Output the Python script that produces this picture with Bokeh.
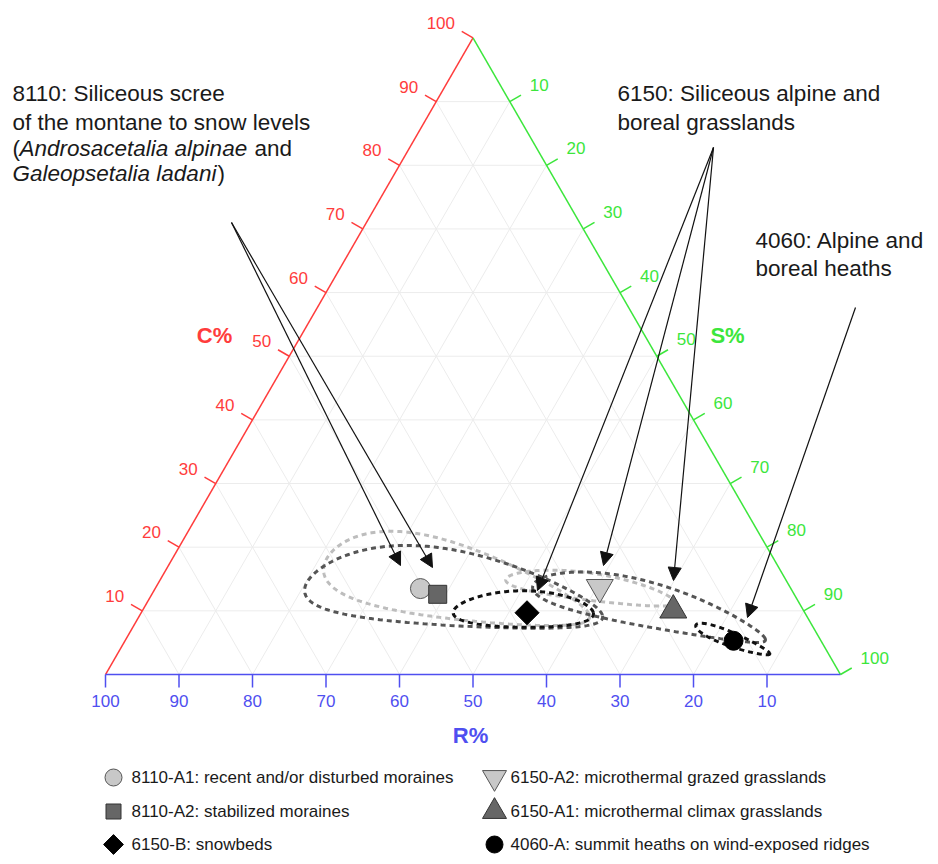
import numpy as np
from bokeh.plotting import figure
from bokeh.models import ColumnDataSource, Label, Arrow, NormalHead, Range1d
from bokeh.embed import file_html
from bokeh.resources import INLINE
from bokeh.core.properties import value

# ---------------- data ----------------
groups = ["8110-A1", "8110-A2", "6150-B", "6150-A2", "6150-A1", "4060-A"]
descriptions = ["recent and/or disturbed moraines", "stabilized moraines", " snowbeds",
                "microthermal grazed grasslands", "microthermal climax grasslands",
                "summit heaths on wind-exposed  ridges"]
C_pct = [13.5, 12.6, 9.7, 13.7, 10.1, 5.3]
S_pct = [36.1, 38.9, 52.5, 60.4, 72.2, 82.8]
R_pct = [50.4, 48.5, 37.8, 25.9, 17.7, 11.9]

# confidence ellipses in log-ratio space: u = ln(S/R), v = ln(C/sqrt(R*S))
ell_u0 = [-0.17, -0.18, 0.32, 0.83, 1.42, 1.99]
ell_su = [0.90, 1.00, 0.44, 0.62, 1.04, 0.42]
ell_v0 = [-1.13, -1.24, -1.50, -1.08, -1.32, -1.81]
ell_sv = [0.64, 0.60, 0.32, 0.19, 0.45, 0.38]
ell_rho = [-0.62, -0.45, 0.10, -0.16, -0.40, -0.70]

tick_values = [10, 20, 30, 40, 50, 60, 70, 80, 90, 100]
tick_labels = ["10", "20", "30", "40", "50", "60", "70", "80", "90", "100"]

# ---------------- styles ----------------
markers = ["circle", "square", "square", "inverted_triangle", "triangle", "circle"]
angles = [0, 0, np.pi / 4, 0, 0, 0]
sizes = [20, 18, 17, 27, 27, 19]
leg_sizes = [17, 15, 14, 24, 24, 17]
fills = ["#c8c8c8", "#666666", "#000000", "#c8c8c8", "#666666", "#000000"]
outlines = ["#555555", "#333333", "#000000", "#555555", "#333333", "#000000"]
ell_colors = ["#bdbdbd", "#555555", "#111111", "#bdbdbd", "#555555", "#111111"]
RED, GREEN, BLUE = "#ff3c3c", "#3ce63c", "#4f4ff0"
FONT = "Liberation Sans"

# ---------------- geometry ----------------
PX = 7.35                 # pixels per percent unit
OX, OY = 105.0, 674.0     # picture position of the R=100 vertex
W, H = 930, 856
H3 = np.sqrt(3) / 2


def tern(c, s):
    c = np.asarray(c, dtype=float)
    s = np.asarray(s, dtype=float)
    return s + c / 2.0, c * H3


def pg(xp, yp):
    return (xp - OX) / PX, (OY - yp) / PX


x0, y1 = pg(0, 0)
x1, y0 = pg(W, H)

p = figure(width=W, height=H, x_range=Range1d(x0, x1), y_range=Range1d(y0, y1),
           output_backend="svg", toolbar_location=None, tools="", min_border=0,
           x_axis_type=None, y_axis_type=None, outline_line_color=None,
           background_fill_color="white", border_fill_color="white")

# grid lines
gx, gy = [], []
for k in tick_values[:-1]:
    gx.append([k / 2, 100 - k / 2]); gy.append([k * H3, k * H3])                 # C = k
    gx.append([100 - k, (100 - k) / 2]); gy.append([0, (100 - k) * H3])         # R = k
    gx.append([k, k + (100 - k) / 2]); gy.append([0, (100 - k) * H3])           # S = k
p.multi_line(gx, gy, line_color="#ececec", line_width=1)

# triangle edges
p.line([0, 50], [0, 100 * H3], line_color=RED, line_width=1.5)
p.line([50, 100], [100 * H3, 0], line_color=GREEN, line_width=1.5)
p.line([0, 100], [0, 0], line_color=BLUE, line_width=1.5)

TL = 13 / PX
tv = np.array(tick_values, dtype=float)
# bottom (R) ticks
bx = 100 - tv
p.segment(bx, 0 * bx, bx, 0 * bx - TL, line_color=BLUE, line_width=1.5)
p.text(bx, 0 * bx - 26 / PX, text=tick_labels, text_color=BLUE, text_font=value(FONT),
       text_font_size="17px", text_align="center", text_baseline="middle")
# left (C) ticks
lx, ly = tern(tv, 0 * tv)
p.segment(lx, ly, lx - TL * H3, ly + TL * 0.5, line_color=RED, line_width=1.5)
p.text(lx - 18 / PX, ly + 15 / PX, text=tick_labels, text_color=RED, text_font=value(FONT),
       text_font_size="17px", text_align="right", text_baseline="middle")
# right (S) ticks
rx, ry = tern(100 - tv, tv)
p.segment(rx, ry, rx + TL * H3, ry + TL * 0.5, line_color=GREEN, line_width=1.5)
p.text(rx + 20 / PX, ry + 17 / PX, text=tick_labels, text_color=GREEN, text_font=value(FONT),
       text_font_size="17px", text_align="left", text_baseline="middle")

# axis titles
for txt, (xp, yp), col in [("C%", (214, 335), RED), ("S%", (727, 335), GREEN), ("R%", (470, 735), BLUE)]:
    lx_, ly_ = pg(xp, yp)
    p.add_layout(Label(x=lx_, y=ly_, text=txt, text_color=col, text_font=FONT, text_font_size="22px",
                       text_font_style="bold", text_align="center", text_baseline="middle"))

# ellipses
t = np.linspace(0, 2 * np.pi, 240)
ex, ey = [], []
for u0, su, v0, sv, rho in zip(ell_u0, ell_su, ell_v0, ell_sv, ell_rho):
    u = u0 + su * np.cos(t)
    v = v0 + sv * np.cos(t + np.arccos(rho))
    r_, s_, c_ = np.exp(-u / 2), np.exp(u / 2), np.exp(v)
    tot = r_ + s_ + c_
    X, Y = tern(100 * c_ / tot, 100 * s_ / tot)
    ex.append(list(X)); ey.append(list(Y))
order = [0, 3, 1, 4, 2, 5]
p.multi_line([ex[i] for i in order], [ey[i] for i in order],
             line_color=[ell_colors[i] for i in order], line_width=3, line_dash="5 4")

# points
PXs, PYs = tern(C_pct, S_pct)
src = ColumnDataSource(dict(x=PXs, y=PYs, marker=markers, angle=angles, size=sizes,
                            fill=fills, line=outlines, group=groups))
p.scatter("x", "y", source=src, marker="marker", angle="angle", size="size",
          fill_color="fill", line_color="line", line_width=1)

# annotation arrows
arrows_px = [((231, 222), (400, 565)), ((231, 222), (432, 567)),
             ((713, 147), (537, 590)), ((713, 147), (603, 565)), ((713, 147), (673, 580)),
             ((855, 307), (747, 617))]
axs, ays, axe, aye = [], [], [], []
for (a, b) in arrows_px:
    xs_, ys_ = pg(*a); xe_, ye_ = pg(*b)
    axs.append(xs_); ays.append(ys_); axe.append(xe_); aye.append(ye_)
asrc = ColumnDataSource(dict(xs=axs, ys=ays, xe=axe, ye=aye))
p.add_layout(Arrow(x_start="xs", y_start="ys", x_end="xe", y_end="ye", source=asrc,
                   line_color="#111111", line_width=1.2,
                   end=NormalHead(size=13, fill_color="#111111", line_color="#111111")))

# annotation texts
notes = [("8110: Siliceous scree", 12, 93, "normal"),
         ("of the  montane to snow levels", 12, 122, "normal"),
         ("(", 12, 148, "normal"),
         ("Androsacetalia  alpinae", 19, 148, "italic"),
         ("and", 254, 148, "normal"),
         ("Galeopsetalia  ladani", 12, 173, "italic"),
         (")", 217, 173, "normal"),
         ("6150: Siliceous alpine and", 617, 93, "normal"),
         ("boreal grasslands", 617, 122, "normal"),
         ("4060: Alpine and", 755, 240, "normal"),
         ("boreal heaths", 755, 268, "normal")]
for txt, xp, yp, st in notes:
    nx, ny = pg(xp, yp)
    p.add_layout(Label(x=nx, y=ny, text=txt, text_color="#1a1a1a", text_font=FONT,
                       text_font_size="22.5px", text_font_style=st, text_align="left",
                       text_baseline="middle"))

# legend (two columns, three rows)
leg_col = [0, 0, 0, 1, 1, 1]
leg_row = [0, 1, 2, 0, 1, 2]
mk_x = [113, 494]
tx_x = [131, 510]
row_y = [777, 811, 844]
lmx, lmy, ltx, lty, ltxt = [], [], [], [], []
for i in range(len(groups)):
    mx_, my_ = pg(mk_x[leg_col[i]], row_y[leg_row[i]])
    tx_, ty_ = pg(tx_x[leg_col[i]], row_y[leg_row[i]])
    lmx.append(mx_); lmy.append(my_); ltx.append(tx_); lty.append(ty_)
    ltxt.append(groups[i] + ": " + descriptions[i])
lsrc = ColumnDataSource(dict(x=lmx, y=lmy, marker=markers, angle=angles, size=leg_sizes,
                             fill=fills, line=outlines))
p.scatter("x", "y", source=lsrc, marker="marker", angle="angle", size="size",
          fill_color="fill", line_color="line", line_width=1)
p.text(ltx, lty, text=ltxt, text_color="#1a1a1a", text_font=value(FONT),
       text_font_size="17px", text_align="left", text_baseline="middle")

open("out.html", "w").write(file_html(p, INLINE))
